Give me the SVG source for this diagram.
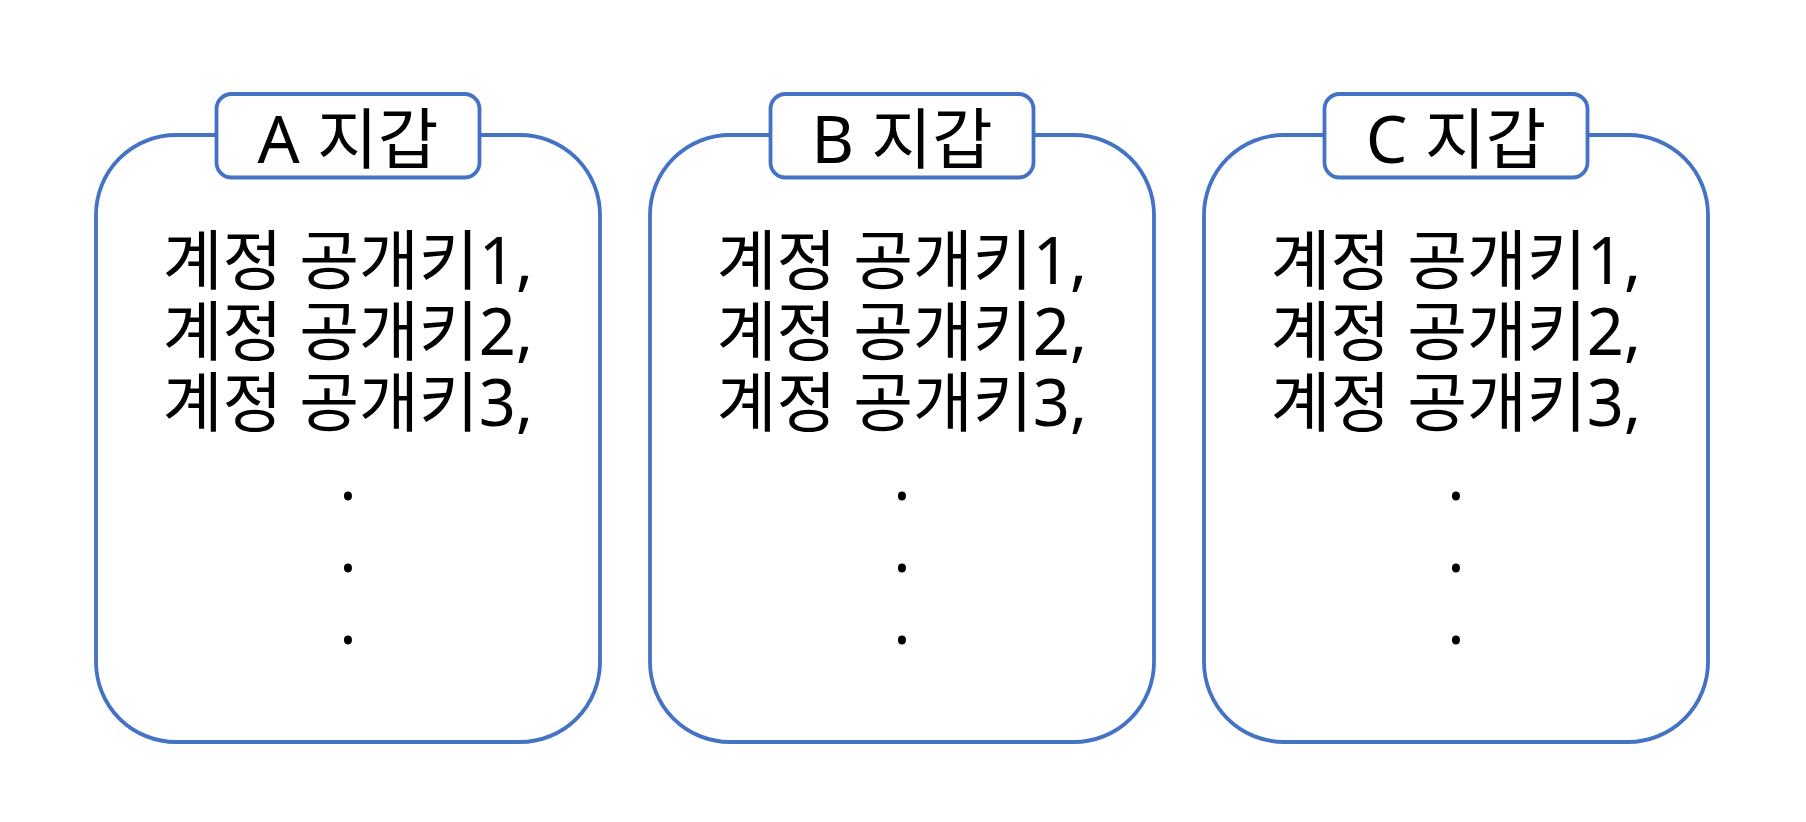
<svg xmlns="http://www.w3.org/2000/svg" width="1806" height="822" viewBox="0 0 1806 822">
<style>
.wallet{fill:#FFFFFF;stroke:#4472C4;stroke-width:3.8}
.tag{fill:#FFFFFF;stroke:#4472C4;stroke-width:3.8}
.t{font-family:"Noto Sans","Noto Sans CJK KR",sans-serif;font-size:65px;fill:#000000;text-anchor:middle}
.h{font-family:"Noto Sans","Noto Sans CJK KR",sans-serif;font-size:66px;fill:#000000;text-anchor:middle}
</style>
<rect width="1806" height="822" fill="#FFFFFF"/>
<g id="connectors"></g>
<g id="walletA">
<rect class="wallet" x="96" y="135" width="504" height="607" rx="80" ry="80"/>
<rect class="tag" x="216.5" y="94" width="263" height="83.5" rx="15" ry="15"/>
<text class="h" x="348" y="163">A 지갑</text>
<text class="t" x="348" y="284">계정 공개키1,</text>
<text class="t" x="348" y="355">계정 공개키2,</text>
<text class="t" x="348" y="426">계정 공개키3,</text>
<text class="t" x="348" y="499.5">.</text>
<text class="t" x="348" y="571.5">.</text>
<text class="t" x="348" y="643.5">.</text>
</g>
<g id="walletB">
<rect class="wallet" x="650" y="135" width="504" height="607" rx="80" ry="80"/>
<rect class="tag" x="770.5" y="94" width="263" height="83.5" rx="15" ry="15"/>
<text class="h" x="902" y="163">B 지갑</text>
<text class="t" x="902" y="284">계정 공개키1,</text>
<text class="t" x="902" y="355">계정 공개키2,</text>
<text class="t" x="902" y="426">계정 공개키3,</text>
<text class="t" x="902" y="499.5">.</text>
<text class="t" x="902" y="571.5">.</text>
<text class="t" x="902" y="643.5">.</text>
</g>
<g id="walletC">
<rect class="wallet" x="1204" y="135" width="504" height="607" rx="80" ry="80"/>
<rect class="tag" x="1324.5" y="94" width="263" height="83.5" rx="15" ry="15"/>
<text class="h" x="1456" y="163">C 지갑</text>
<text class="t" x="1456" y="284">계정 공개키1,</text>
<text class="t" x="1456" y="355">계정 공개키2,</text>
<text class="t" x="1456" y="426">계정 공개키3,</text>
<text class="t" x="1456" y="499.5">.</text>
<text class="t" x="1456" y="571.5">.</text>
<text class="t" x="1456" y="643.5">.</text>
</g>
</svg>
